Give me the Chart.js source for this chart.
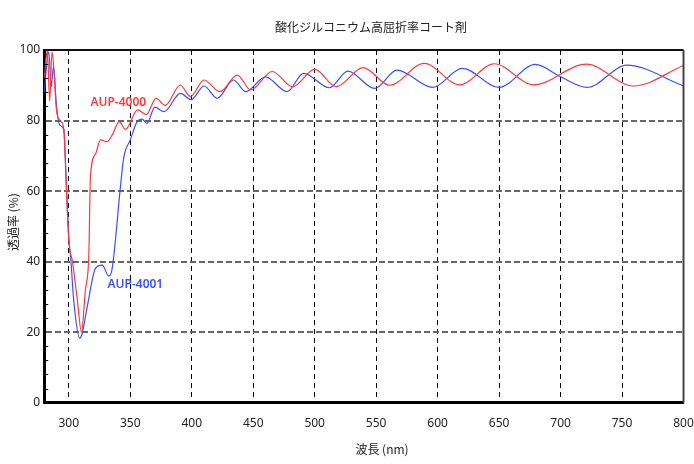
<!DOCTYPE html>
<html>
<head>
<meta charset="utf-8">
<script src="https://cdn.jsdelivr.net/npm/chart.js@4.4.0/dist/chart.umd.min.js"></script>
<style>
  html, body { margin: 0; padding: 0; background: #fff; }
  #wrap { width: 694px; height: 464px; }
</style>
</head>
<body>
<div id="wrap"><canvas id="result" width="694" height="464"></canvas></div>
<script>
// AUP-4000 (red)
const wave4000 = [280, 281.5, 282.5, 284.5, 286.3, 288, 290, 293, 296, 297, 300, 303, 307, 310.3, 313.5, 316.3, 317.6, 321.7,
  325.8, 331, 335.5, 341, 346, 356, 363, 371, 378.5, 390.6, 399, 410, 423, 437, 448, 465.5, 482, 500,
  517.6, 539.4, 561, 589, 618, 646, 678, 721, 759, 800];
const trans4000 = [92, 97.5, 100, 85.5, 99.5, 94, 83, 80, 77.5, 70, 46, 40, 29, 20, 32, 42, 64, 70.5,
  74.5, 74, 76, 79.7, 77.5, 83, 81.7, 86.3, 84.3, 90, 86.8, 91.5, 88.2, 92.9, 88.7, 93.9, 89.6, 94.5,
  89.6, 95, 90, 96.2, 90.1, 96.1, 90.1, 96, 89.8, 95.6];

// AUP-4001 (blue)
const wave4001 = [280, 283.7, 285.7, 287.5, 290, 292.7, 296, 298, 300, 301.7, 304, 308.9, 310.9, 315, 321.7, 327.2, 332.5, 335.3,
  342, 344.7, 350, 355.6, 359.6, 363.5, 370, 377.5, 390.8, 399.5, 410, 420.7, 434, 444, 460, 477.5, 491,
  512, 527, 548.7, 567, 596, 620, 650, 679.5, 700, 721.5, 754, 800];
const trans4001 = [88, 99.5, 89.6, 95.3, 84, 78.7, 77.3, 62, 47, 40.4, 29, 18.3, 19.7, 27.2, 38.1, 39, 35.9, 38.1,
  61.2, 69.5, 74.5, 79.7, 80.4, 79.2, 83.8, 82.5, 87.7, 85.9, 89.8, 86.3, 91.5, 88.2, 92.4, 88.2, 93.4,
  89.3, 94, 89.1, 94.3, 89.4, 94.8, 89.4, 95.9, 92.4, 89.4, 95.7, 89.8];

const xTickValues = [300, 350, 400, 450, 500, 550, 600, 650, 700, 750, 800];
const yTickValues = [0, 20, 40, 60, 80, 100];

const seriesNames = ['AUP-4000', 'AUP-4001'];
// where each series name is written, in data units [wavelength, transmittance]
const nameAnchors = [[317.6, 85], [331.5, 33.4]];

const chartTitle = '酸化ジルコニウム高屈折率コート剤';
const xTitle = '波長 (nm)';
const yTitle = '透過率 (%)';

const RED = 'rgb(255, 55, 60)';
const BLUE = 'rgb(55, 80, 255)';

function toPoints(xs, ys) {
  return xs.map((x, i) => ({ x: x, y: ys[i] }));
}

const frame = {
  id: 'frame',
  afterDraw(chart) {
    const c = chart.ctx;
    const a = chart.chartArea;
    const ys = chart.scales.y;
    c.save();
    // minor ticks on the left axis
    c.strokeStyle = '#000';
    c.lineWidth = 1;
    for (let v = 4; v < 100; v += 4) {
      if (v % 20 === 0) continue;
      const py = Math.round(ys.getPixelForValue(v)) + 0.5;
      c.beginPath();
      c.moveTo(a.left, py);
      c.lineTo(a.left + 4, py);
      c.stroke();
    }
    // top and right edges
    c.lineWidth = 2;
    c.strokeStyle = '#111';
    c.beginPath();
    c.moveTo(a.left, a.top);
    c.lineTo(a.right, a.top);
    c.stroke();
    c.strokeStyle = '#444';
    c.beginPath();
    c.moveTo(a.right, a.top);
    c.lineTo(a.right, a.bottom);
    c.stroke();

    // texts
    c.textAlign = 'center';
    c.textBaseline = 'middle';
    c.fillStyle = '#222';
    c.font = '12px "Noto Sans CJK JP", "Noto Sans"';
    c.fillText(chartTitle, 371, 27);
    c.fillText(xTitle, 382, 449);
    c.save();
    c.translate(13, 222);
    c.rotate(-Math.PI / 2);
    c.fillText(yTitle, 0, 0);
    c.restore();

    c.font = '600 12px "Noto Sans"';
    c.textAlign = 'left';
    const colors = [RED, BLUE];
    nameAnchors.forEach((p, i) => {
      c.fillStyle = colors[i];
      c.fillText(seriesNames[i], chart.scales.x.getPixelForValue(p[0]), ys.getPixelForValue(p[1]));
    });
    c.restore();
  }
};

const ctx = document.getElementById('result').getContext('2d');
const chart = new Chart(ctx, {
  type: 'line',
  data: {
    datasets: [{
      label: seriesNames[0],
      data: toPoints(wave4000, trans4000),
      borderColor: RED,
      borderWidth: 1.2,
      pointRadius: 0,
      cubicInterpolationMode: 'monotone',
      fill: false
    }, {
      label: seriesNames[1],
      data: toPoints(wave4001, trans4001),
      borderColor: BLUE,
      borderWidth: 1.2,
      pointRadius: 0,
      cubicInterpolationMode: 'monotone',
      fill: false
    }]
  },
  options: {
    responsive: false,
    animation: false,
    layout: { padding: { top: 50, right: 10.5, left: 0, bottom: 0 } },
    plugins: {
      legend: { display: false },
      title: { display: false },
      tooltip: { enabled: false }
    },
    scales: {
      x: {
        type: 'linear',
        min: 280,
        max: 800,
        afterBuildTicks: (s) => { s.ticks = xTickValues.map(v => ({ value: v })); },
        afterFit: (s) => { s.height = 61.3; s.paddingLeft = 0; s.paddingRight = 0; },
        ticks: {
          padding: 14,
          color: '#222',
          font: { family: '"Noto Sans"', size: 12 }
        },
        grid: {
          drawTicks: false,
          lineWidth: 1,
          color: (c) => (c.tick && c.tick.value === 800) ? 'transparent' : '#000'
        },
        border: { display: true, color: '#000', width: 3, dash: [5, 4] }
      },
      y: {
        min: 0,
        max: 100,
        afterBuildTicks: (s) => { s.ticks = yTickValues.map(v => ({ value: v })); },
        afterFit: (s) => { s.width = 44.2; s.paddingTop = 0; s.paddingBottom = 0; },
        ticks: {
          padding: 4,
          color: '#222',
          font: { family: '"Noto Sans"', size: 12 }
        },
        grid: {
          drawTicks: false,
          lineWidth: 2,
          color: (c) => (c.tick && (c.tick.value === 0 || c.tick.value === 100)) ? 'transparent' : '#666'
        },
        border: { display: true, color: '#000', width: 3, dash: [6, 3] }
      }
    }
  },
  plugins: [frame]
});
</script>
</body>
</html>
